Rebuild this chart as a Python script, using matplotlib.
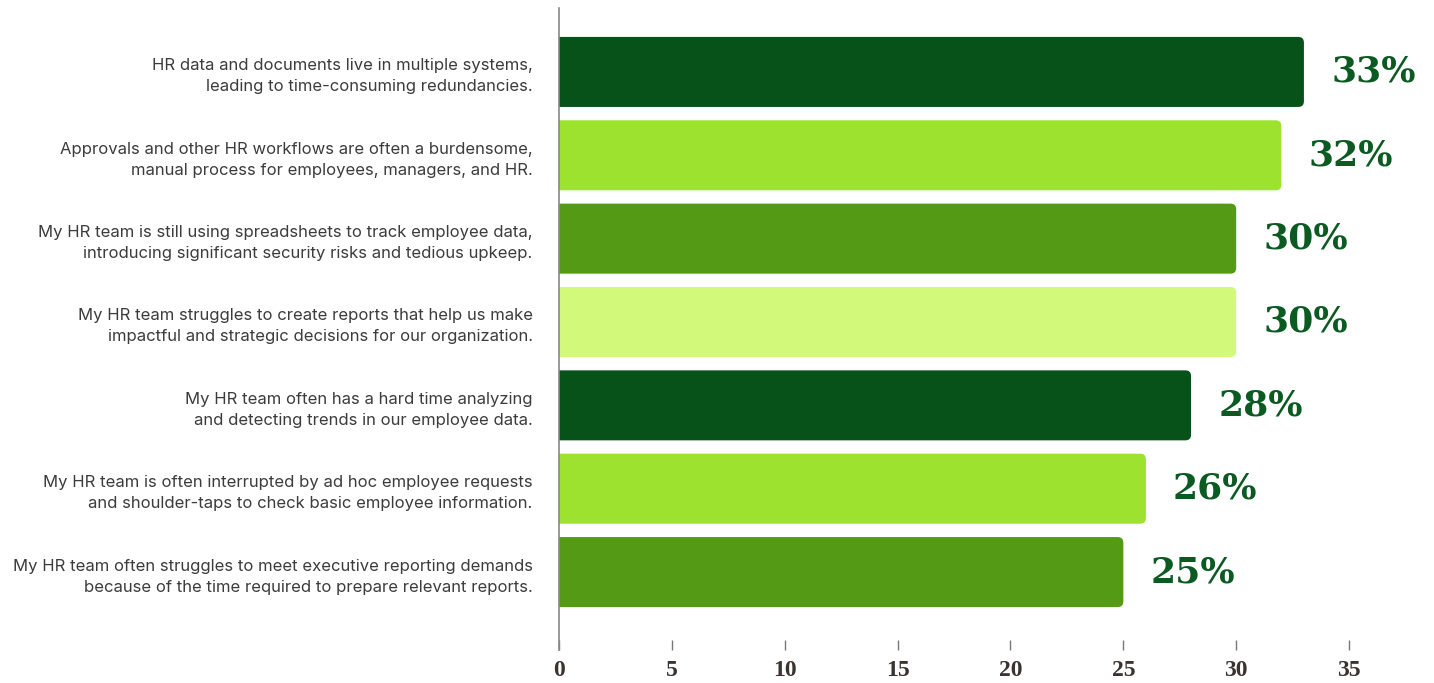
import numpy as np
import matplotlib
matplotlib.use("Agg")
import matplotlib.pyplot as plt
from matplotlib.patches import FancyBboxPatch

# survey data, top to bottom
labels = [
    "HR data and documents live in multiple systems,\nleading to time-consuming redundancies.",
    "Approvals and other HR workflows are often a burdensome,\nmanual process for employees, managers, and HR.",
    "My HR team is still using spreadsheets to track employee data,\nintroducing significant security risks and tedious upkeep.",
    "My HR team struggles to create reports that help us make\nimpactful and strategic decisions for our organization.",
    "My HR team often has a hard time analyzing\nand detecting trends in our employee data.",
    "My HR team is often interrupted by ad hoc employee requests\nand shoulder-taps to check basic employee information.",
    "My HR team often struggles to meet executive reporting demands\nbecause of the time required to prepare relevant reports.",
]
values = [33, 32, 30, 30, 28, 26, 25]
colors = ["#065219", "#9de22e", "#559a14", "#d3f97a", "#065219", "#9de22e", "#559a14"]
xticks = [0, 5, 10, 15, 20, 25, 30, 35]

fig = plt.figure(figsize=(14.34, 6.83), dpi=100)
ax = fig.add_axes([559 / 1434, 1 - 650 / 683, 1 - 559 / 1434 - 0.012, (650 - 8) / 683])

ypos = np.arange(len(values))
bars = ax.barh(ypos, values, height=0.84, color=colors)

ax.set_xlim(0, 38)
ax.set_ylim(6.935, -0.767)

# swap plain bars for ones with rounded ends
px_x = ax.get_position().width * 1434 / 38
px_y = ax.get_position().height * 683 / (6.935 + 0.767)
for b, c in zip(bars, colors):
    b.set_visible(False)
    x0, y0 = b.get_x(), b.get_y()
    w, h = b.get_width(), b.get_height()
    p = FancyBboxPatch((x0 - 0.5, y0), w + 0.5, h,
                       boxstyle="round,pad=0,rounding_size=0.25",
                       mutation_aspect=px_x / px_y,
                       facecolor=c, edgecolor="none", clip_on=True)
    ax.add_patch(p)
    ax.text(w + 1.2, b.get_y() + h / 2, f"{w}%", va="center", ha="left",
            fontsize=26, fontweight="bold", family="DejaVu Serif", color="#0b5a22")

ax.set_yticks(ypos)
ax.set_yticklabels(labels, fontsize=12.0, family="Inter", color="#3c3c3c",
                   linespacing=1.5)
ax.tick_params(axis="y", length=0, pad=19)

ax.set_xticks(xticks)
ax.set_xticklabels([str(t) for t in xticks], fontsize=17, family="Liberation Serif",
                   fontweight="bold", color="#3a3330")
ax.tick_params(axis="x", direction="in", length=7.5, width=1, color="#777777", pad=7)

for s in ["top", "right", "bottom"]:
    ax.spines[s].set_visible(False)
ax.spines["left"].set_color("#888888")
ax.spines["left"].set_linewidth(1.2)

fig.savefig("out.png", dpi=100)
